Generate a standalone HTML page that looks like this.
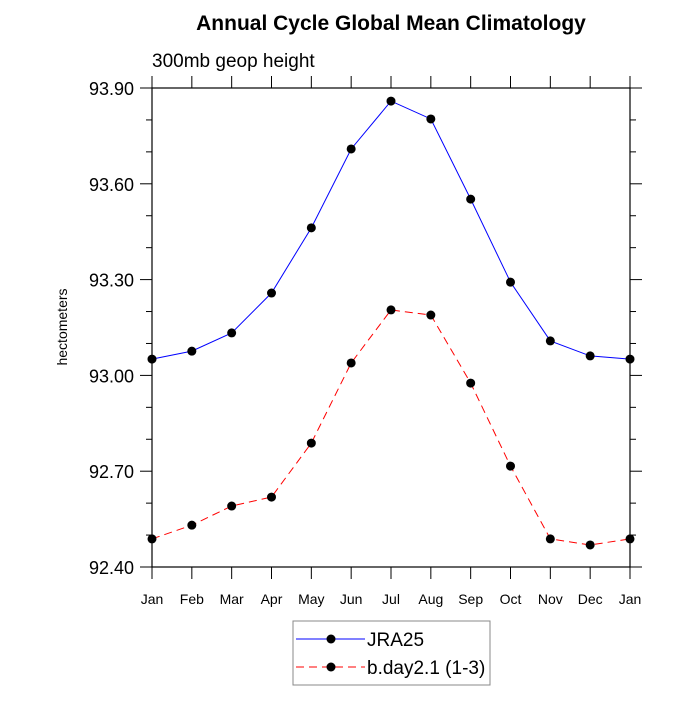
<!DOCTYPE html>
<html><head><meta charset="utf-8"><style>
body{margin:0;background:#fff;}
svg text{font-family:"Liberation Sans",sans-serif;fill:#000;}
</style></head><body>
<svg id="c" width="700" height="700" xmlns="http://www.w3.org/2000/svg">
<text x="391" y="30" font-size="21" font-weight="bold" text-anchor="middle">Annual Cycle Global Mean Climatology</text>
<text x="152" y="67" font-size="19">300mb geop height</text>
<text transform="translate(67,327) rotate(-90)" font-size="14" text-anchor="middle">hectometers</text>
<g id="axes"></g>
<g id="series"></g>
<g>
<rect x="293" y="621" width="197" height="64" fill="#fff" stroke="#888" stroke-width="1"/>
<g>
<line x1="296" y1="639" x2="365" y2="639" stroke="#0000ff" stroke-width="1"/>
<circle cx="331" cy="639" r="4.5" fill="#000"/>
<text x="367" y="646" font-size="19">JRA25</text></g>
<g>
<line x1="296" y1="667" x2="365" y2="667" stroke="#ff0000" stroke-width="1" stroke-dasharray="8,5"/>
<circle cx="331" cy="667" r="4.5" fill="#000"/>
<text x="367" y="674" font-size="19">b.day2.1 (1-3)</text></g>
</g>
</svg>
<script>
const months=["Jan","Feb","Mar","Apr","May","Jun","Jul","Aug","Sep","Oct","Nov","Dec","Jan"];
const jra25=[93.051,93.076,93.133,93.258,93.462,93.709,93.859,93.803,93.552,93.292,93.108,93.061,93.051];
const bday=[92.488,92.531,92.591,92.619,92.788,93.039,93.205,93.189,92.976,92.716,92.488,92.469,92.488];
const yTicks=[92.40,92.70,93.00,93.30,93.60,93.90];
const yMin=92.40,yMax=93.90;
const L=152,R=630,T=88,B=567;
const NS="http://www.w3.org/2000/svg";
const xs=i=>L+(R-L)*i/(months.length-1);
const ys=v=>B-(B-T)*(v-yMin)/(yMax-yMin);
function mk(t,a,p){const e=document.createElementNS(NS,t);for(const k in a)e.setAttribute(k,a[k]);p.appendChild(e);return e;}
const ax=document.getElementById('axes');
const frame=mk('rect',{x:L,y:T,width:R-L,height:B-T,fill:'none',stroke:'#000','stroke-width':1.2},ax);


months.forEach((m,i)=>{const x=xs(i);
mk('line',{x1:x,y1:B,x2:x,y2:B+12,stroke:'#000'},ax);
mk('line',{x1:x,y1:T,x2:x,y2:T-12,stroke:'#000'},ax);
const t=mk('text',{x:x,y:B+37,'font-size':14,'text-anchor':'middle'},ax);t.textContent=m;

});
for(let v=yMin;v<=yMax+1e-9;v+=0.1){const y=ys(v);
const maj=yTicks.some(t=>Math.abs(t-v)<1e-6);const len=maj?12:6;
mk('line',{x1:L,y1:y,x2:L-len,y2:y,stroke:'#000'},ax);
mk('line',{x1:R,y1:y,x2:R+len,y2:y,stroke:'#000'},ax);}
yTicks.forEach(v=>{const t=mk('text',{x:L-18,y:ys(v)+7,'font-size':18,'text-anchor':'end'},ax);t.textContent=v.toFixed(2);

});
const sg=document.getElementById('series');
function draw(data,color,dash,name){
const g=mk('g',{},sg);


const pl=mk('polyline',{points:data.map((v,i)=>xs(i)+','+ys(v)).join(' '),fill:'none',stroke:color,'stroke-width':1,'stroke-dasharray':dash},g);
data.forEach((v,i)=>{const c=mk('circle',{cx:xs(i),cy:ys(v),r:4.5,fill:'#000'},g);

});}
draw(jra25,'#0000ff','none','series-jra25');
draw(bday,'#ff0000','8,5','series-bday');
</script>
</body></html>
